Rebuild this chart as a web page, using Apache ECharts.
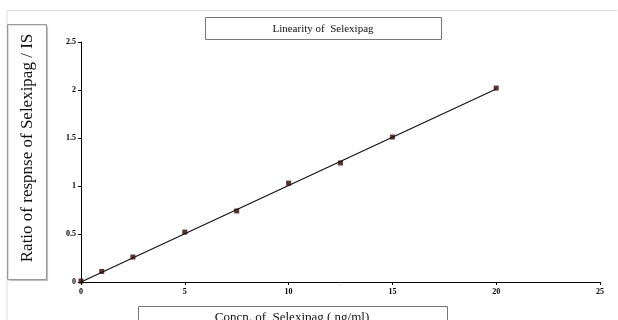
<!DOCTYPE html>
<html>
<head>
<meta charset="utf-8">
<script src="https://cdn.jsdelivr.net/npm/echarts@6/dist/echarts.min.js"></script>
<style>
  html, body { margin: 0; padding: 0; background: #fff; }
  #chart { width: 618px; height: 320px; }
</style>
</head>
<body>
<div id="chart"></div>
<script>
// concentration (ng/ml) and measured response ratio
const concn = [0, 1, 2.5, 5, 7.5, 10, 12.5, 15, 20];
const ratio = [0.01, 0.11, 0.26, 0.52, 0.74, 1.03, 1.24, 1.51, 2.02];
// fitted line endpoints
const fitLine = [[0, 0.0], [20, 2.01]];
const xTicks = [0, 5, 10, 15, 20, 25];
const yTicks = [0, 0.5, 1, 1.5, 2, 2.5];

const serif = "'Liberation Serif', 'DejaVu Serif', serif";
const chart = echarts.init(document.getElementById("chart"));

chart.setOption({
  animation: false,
  backgroundColor: "#fff",
  grid: { left: 81, right: 18, top: 42, bottom: 38 },
  xAxis: {
    type: "value",
    min: 0,
    max: 25,
    interval: 5,
    axisLine: { lineStyle: { color: "#000", width: 1 } },
    axisTick: { show: true, length: 3, lineStyle: { color: "#000" } },
    axisLabel: {
      color: "#000",
      fontFamily: serif,
      fontSize: 8,
      fontWeight: "bold",
      margin: 6,
      formatter: (v) => (xTicks.includes(v) ? String(v) : ""),
    },
    splitLine: { show: false },
  },
  yAxis: {
    type: "value",
    min: 0,
    max: 2.5,
    interval: 0.5,
    axisLine: { show: true, lineStyle: { color: "#000", width: 1 } },
    axisTick: { show: true, length: 3, lineStyle: { color: "#000" } },
    axisLabel: {
      color: "#000",
      fontFamily: serif,
      fontSize: 8,
      fontWeight: "bold",
      margin: 5,
      formatter: (v) => (yTicks.includes(v) ? String(v) : ""),
    },
    splitLine: { show: false },
  },
  series: [
    {
      type: "line",
      data: fitLine,
      symbol: "none",
      lineStyle: { color: "#111", width: 1.2 },
      z: 2,
    },
    {
      type: "scatter",
      data: concn.map((c, i) => [c, ratio[i]]),
      symbol: "rect",
      symbolSize: 5,
      itemStyle: { color: "#2e0505" },
      z: 3,
    },
  ],
  graphic: [
    // outer frame (top and left edges)
    {
      type: "polyline",
      shape: { points: [[7, 320], [7, 10.5], [617, 10.5]] },
      style: { stroke: "#dcdcdc", fill: null, lineWidth: 1 },
      silent: true,
    },
    // y label box
    {
      type: "rect",
      shape: { x: 7.5, y: 24.5, width: 39, height: 255 },
      style: { fill: "#fff", stroke: "#9a9a9a", lineWidth: 1, shadowColor: "rgba(0,0,0,0.15)", shadowOffsetX: 1, shadowOffsetY: 1, shadowBlur: 1 },
      silent: true,
    },
    {
      type: "text",
      x: 28,
      y: 148,
      rotation: Math.PI / 2,
      style: {
        text: "Ratio of respnse of Selexipag / IS",
        font: "17px " + serif,
        fill: "#111",
        textAlign: "center",
        textVerticalAlign: "middle",
      },
      silent: true,
    },
    // title box
    {
      type: "rect",
      shape: { x: 205.5, y: 17.5, width: 236, height: 22 },
      style: { fill: "#fff", stroke: "#777", lineWidth: 1 },
      silent: true,
    },
    {
      type: "text",
      x: 323,
      y: 29,
      style: {
        text: "Linearity of  Selexipag",
        font: "11px " + serif,
        fill: "#111",
        textAlign: "center",
        textVerticalAlign: "middle",
      },
      silent: true,
    },
    // x label box
    {
      type: "rect",
      shape: { x: 138.5, y: 306.5, width: 309, height: 22 },
      style: { fill: "#fff", stroke: "#777", lineWidth: 1 },
      silent: true,
    },
    {
      type: "text",
      x: 292,
      y: 318,
      style: {
        text: "Concn. of  Selexipag ( ng/ml)",
        font: "13px " + serif,
        fill: "#111",
        textAlign: "center",
        textVerticalAlign: "middle",
      },
      silent: true,
    },
  ],
});
</script>
</body>
</html>
